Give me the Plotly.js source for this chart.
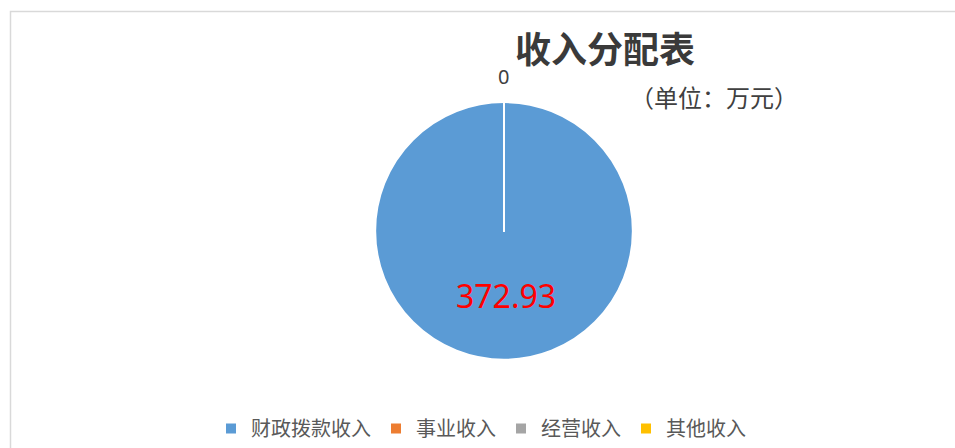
<!DOCTYPE html>
<html>
<head>
<meta charset="utf-8">
<script src="https://cdn.plot.ly/plotly-3.0.1.min.js"></script>
<style>html,body{margin:0;padding:0;background:#fff;}#chart{width:955px;height:448px;}</style>
</head>
<body>
<div id="chart"></div>
<script>
var categories = ["财政拨款收入", "事业收入", "经营收入", "其他收入"];
var values = [372.93, 0, 0, 0];
var colors = ["#5B9BD5", "#ED7D31", "#A5A5A5", "#FFC000"];
var chartTitle = "收入分配表";
var unitLabel = "（单位：万元）";

var W = 955, H = 448;
var cjk = "'Noto Sans CJK SC', 'Noto Sans', sans-serif";

var trace = {
  type: "pie",
  labels: categories,
  values: values,
  sort: false,
  direction: "clockwise",
  rotation: 0,
  textinfo: "none",
  hoverinfo: "label+value",
  marker: {colors: colors, line: {color: "#ffffff", width: 2}},
  domain: {x: [374/W, 634/W], y: [(H-363)/H, (H-103)/H]},
  showlegend: true
};

var layout = {
  width: W, height: H,
  margin: {l: 0, r: 0, t: 0, b: 0},
  paper_bgcolor: "#ffffff",
  showlegend: true,
  legend: {
    orientation: "h",
    x: 481/W, xanchor: "center",
    y: -4/H, yanchor: "bottom",
    font: {family: cjk, size: 20, color: "#595959"},
    itemwidth: 30,
    traceorder: "normal"
  },
  annotations: [
    {text: chartTitle, xref: "paper", yref: "paper", x: 605/W, y: 1 - 47/H, xanchor: "center", yanchor: "middle", showarrow: false,
     font: {family: cjk, size: 36, color: "#3a3a3a", weight: "bold"}},
    {text: unitLabel, xref: "paper", yref: "paper", x: 628/W, y: 1 - 97/H, xanchor: "left", yanchor: "middle", showarrow: false,
     font: {family: cjk, size: 24, color: "#404040"}},
    {text: String(values[0]), xref: "paper", yref: "paper", x: 506/W, y: 1 - 298/H, xanchor: "center", yanchor: "middle", showarrow: false,
     font: {family: "'Noto Sans', sans-serif", size: 32, color: "#FF0000"}},
    {text: String(values[1]), xref: "paper", yref: "paper", x: 503/W, y: 1 - 77/H, xanchor: "center", yanchor: "middle", showarrow: false,
     font: {family: "'Noto Sans', sans-serif", size: 20, color: "#404040"}}
  ],
  shapes: [
    {type: "rect", xref: "paper", yref: "paper", x0: 10.5/W, x1: 1 + 5/W, y0: -5/H, y1: 1 - 11.5/H,
     line: {color: "#D9D9D9", width: 1.5}, fillcolor: "rgba(0,0,0,0)", layer: "below"}
  ]
};

Plotly.newPlot("chart", [trace], layout, {displayModeBar: false, staticPlot: true});
</script>
</body>
</html>
